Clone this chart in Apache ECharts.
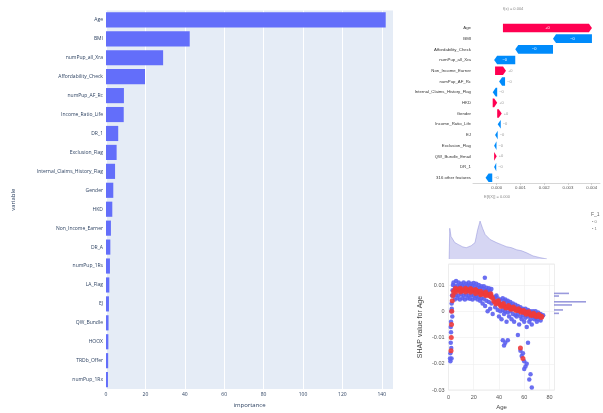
<!DOCTYPE html>
<html><head><meta charset="utf-8">
<script src="https://cdn.jsdelivr.net/npm/echarts/dist/echarts.min.js"></script>
<style>html,body{margin:0;padding:0;background:#fff}#c{width:603px;height:413px}</style>
</head><body><div id="c"></div>
<script>
// ---- Left: feature importance (plotly-style) ----
const impFeatures = ['Age','BMI','numPup_all_Xra','Affordability_Check','numPup_AF_Rc','Income_Ratio_Life','DR_1','Exclusion_Flag','Internal_Claims_History_Flag','Gender','HKD','Non_Income_Earner','DR_A','numPup_1Rs','LA_Flag','EJ','QW_Bundle','HOOX','TRDb_Offer','numPup_1Rx'];
const impValues = [142, 42.5, 29, 19.8, 9.1, 9.0, 6.2, 5.4, 4.6, 3.7, 3.2, 2.5, 2.2, 2.0, 1.7, 1.5, 1.3, 1.2, 1.1, 1.0];

// ---- Top right: SHAP waterfall ----
const wfLabels = ['Age','BMI','Affordability_Check','numPup_all_Xra','Non_Income_Earner','numPup_AF_Rc','Internal_Claims_History_Flag','HKD','Gender','Income_Ratio_Life','EJ','Exclusion_Flag','QW_Bundle_Email','DR_1','316 other features'];
const wfStart = [0.00026, 0.00401, 0.00237, 0.00078, -0.00007, 0.00035, 0.00002, -0.00017, 0.00002, 0.00017, 0.00004, -0.00001, -0.00011, -0.00002, -0.00019];
const wfEnd   = [0.00401, 0.00237, 0.00078, -0.00011, 0.00039, 0.00010, -0.00017, 0.00002, 0.00021, 0.00004, -0.00007, -0.00011, 0.00000, -0.00011, -0.00047];
const wfText  = ['+0','\u22120','\u22120','\u22120','+0','\u22120','\u22120','+0','+0','\u22120','\u22120','\u22120','+0','\u22120','\u22120'];

// ---- Bottom right: dependence plot (Age vs SHAP value) ----
const depBlue = [
 [1.2,-0.018],[1.5,-0.019],[1.5,-0.016],[1.8,-0.012],[2,-0.008],[2,-0.004],[2.2,0],[2.5,0.003],[2.8,0.006],[3,-0.002],
 [1.8,-0.006],[2.2,-0.014],[2.6,0.001],[3.2,0.008],[3.5,0.01],[2.4,-0.018],
 [4,0.011],[6,0.0115],[8,0.011],[10,0.0105],[12,0.011],[14,0.0105],[16,0.011],[18,0.0105],[20,0.0108],[22,0.0105],[24,0.01],[26,0.0095],[28,0.0095],[30,0.009],[32,0.0088],[34,0.0085],
 [5,0.0095],[7,0.0098],[9,0.0093],[11,0.0097],[13,0.0094],[15,0.0098],[17,0.0095],[19,0.0096],[21,0.0093],[23,0.009],[25,0.0088],[27,0.0085],[29,0.008],[31,0.0078],[33,0.0075],
 [4,0.006],[6,0.0062],[8,0.006],[10,0.0065],[12,0.006],[14,0.0063],[16,0.006],[18,0.0062],[20,0.006],[22,0.0058],[24,0.0055],[26,0.005],[28,0.0048],[30,0.004],[32,0.0035],[34,0.003],
 [5,0.0045],[7,0.005],[9,0.0045],[11,0.005],[13,0.0045],[15,0.005],[17,0.0048],[19,0.0045],[21,0.005],[23,0.0045],[25,0.004],[27,0.003],[29,0.002],[31,0.0],[33,0.001],[35,-0.001],
 [36,0.005],[38,0.006],[40,0.004],[42,0.003],[44,0.004],[46,0.0035],[48,0.003],[50,0.002],[52,0.001],[54,0.0005],[56,0.001],[58,0.0],[60,-0.0005],[62,0.0],[64,-0.001],[66,-0.0005],[68,-0.001],[70,-0.002],[72,-0.001],[74,-0.002],
 [37,0.0055],[39,0.005],[41,0.0045],[43,0.005],[45,0.0045],[47,0.004],[49,0.0035],[51,0.003],[53,0.0025],[55,0.002],[57,0.0015],[59,0.001],[61,0.001],[63,0.0005],[65,0.0],[67,0.0],[69,0.0],[71,-0.0005],[73,-0.001],[75,-0.0015],
 [37,0.0015],[39,0.0005],[41,0.0],[43,0.0005],[45,0.0],[47,-0.0005],[49,0.0],[51,-0.001],[53,-0.0015],[55,-0.001],[57,-0.002],[59,-0.0015],[61,-0.0025],[63,-0.002],[65,-0.003],[67,-0.002],[69,-0.0025],[71,-0.003],[73,-0.0035],
 [40,-0.002],[42,-0.003],[44,-0.001],[46,-0.004],[48,-0.002],[50,-0.003],[52,-0.004],[54,-0.002],[56,-0.005],[58,-0.003],[60,-0.004],[62,-0.006],[64,-0.004],[66,-0.005],[68,-0.003],[70,-0.004],
 [43,-0.011],[45,-0.012],[47,-0.011],[44,-0.013],[55,-0.009],[57,-0.015],[58,-0.017],[59,-0.016],[60,-0.019],[61,-0.021],[60,-0.022],[62,-0.02],[63,-0.012],[64,-0.026],[65,-0.024],[66,-0.029],[28.8,0.0128]
];
const depRed = [
 [2,-0.015],[2.2,-0.01],[2.4,-0.005],[2.6,0],[3,0.004],[3.5,0.006],[4,0.0075],[5,0.008],[6,0.0082],[7,0.008],[8,0.0085],[9,0.008],[10,0.0082],[11,0.0078],[12,0.008],[13,0.0082],[14,0.008],[15,0.0083],[16,0.0078],[17,0.008],[18,0.0082],[19,0.0077],[20,0.008],[21,0.0075],[22,0.0078],[23,0.0073],[24,0.0075],[25,0.007],[26,0.0068],[27,0.007],[28,0.0065],[29,0.0068],[30,0.0062],[31,0.0065],[32,0.006],[33,0.0062],[34,0.0058],[35,0.005],
 [5.5,0.0088],[9.5,0.0088],[13.5,0.0088],[17.5,0.0087],[21.5,0.0083],[25.5,0.0076],[29.5,0.0073],[33.5,0.0067],[5.5,0.0072],[9.5,0.0073],[13.5,0.0073],[17.5,0.0072],[21.5,0.0068],[25.5,0.0063],[29.5,0.006],[33.5,0.0055],
 [36,0.0038],[37,0.0035],[38,0.0032],[39,0.0035],[40,0.003],[41,0.0025],[42,0.0022],[43,0.0025],[44,0.002],[45,0.0018],[46,0.0015],[47,0.0018],[48,0.0012],[49,0.0015],[50,0.001],[51,0.0012],[52,0.0008],[53,0.001],[54,0.0005],[55,0.0006],[56,0.0002],[57,0.0004],[58,0],[59,-0.0002],[60,-0.0005],[61,-0.0003],[62,-0.0008],[63,-0.0005],[64,-0.001],[65,-0.0012],[66,-0.001],[67,-0.0015],[68,-0.0012],[69,-0.0015],[70,-0.0018],[71,-0.0015],[72,-0.002],[73,-0.0018],[74,-0.002],
 [37.5,0.0028],[41.5,0.0018],[45.5,0.0012],[49.5,0.0008],[53.5,0.0003],[57.5,-0.0004],[61.5,-0.0011],[65.5,-0.0016],[69.5,-0.002],[73.5,-0.0024],[39.5,0.004],[43.5,0.003],[47.5,0.0022],[51.5,0.0016],[55.5,0.001],[59.5,0.0003],[63.5,-0.0002],[67.5,-0.0008],[71.5,-0.0012],
 [57,-0.014],[59,-0.018]
];
const histAge   = [0.5, 1, 2, 5, 8, 11, 14, 18, 21, 23, 25, 27, 29, 33, 38, 42, 46, 50, 54, 58, 62, 67, 72, 76, 78];
const histCount = [0, 30, 22, 16, 14, 12, 11, 13, 16, 28, 37, 30, 24, 19, 16, 14, 12, 11, 9, 8, 6, 3, 1.5, 0.5, 0];
const rhVal = [0.0068, 0.0058, 0.0036, 0.0024, 0.0005, -0.0008];
const rhLen = [15, 5, 32, 18, 9, 5];

const chart = echarts.init(document.getElementById('c'), null, {renderer: 'canvas'});
const pf = 'Open Sans, Arial, sans-serif';
const RED = '#ff0051', BLUE = '#008bfb';

const wfData = wfLabels.map((l, i) => [i, wfStart[i], wfEnd[i]]);

chart.setOption({
  backgroundColor: '#fff',
  animation: false,
  grid: [
    {left: 106, top: 10.4, width: 287, height: 383.2, show: true, backgroundColor: '#e5ecf6', borderWidth: 0},
    {left: 473, top: 22.6, width: 127, height: 160.5},
    {left: 448.5, top: 264, width: 106, height: 126, show: true, borderColor: '#ddd', borderWidth: 0.6},
    {left: 448.5, top: 218, width: 106, height: 41},
    {left: 554, top: 264, width: 40, height: 126}
  ],
  xAxis: [
    {gridIndex: 0, type: 'value', min: 0, max: 145.7, interval: 20,
     name: 'importance', nameLocation: 'middle', nameGap: 11, nameTextStyle: {fontSize: 6, color: '#2a3f5f', fontFamily: pf},
     axisLine: {show: false}, axisTick: {show: false},
     axisLabel: {fontSize: 5, color: '#2a3f5f', margin: 3, showMaxLabel: false, fontFamily: pf},
     splitLine: {lineStyle: {color: '#fff', width: 1}}},
    {gridIndex: 1, type: 'value', min: -0.001, max: 0.00435, interval: 0.001,
     axisLine: {show: true, lineStyle: {color: '#bbb', width: 0.6}}, axisTick: {show: true, length: 2, lineStyle: {color: '#bbb', width: 0.6}},
     axisLabel: {fontSize: 4.3, color: '#555', margin: 3, showMinLabel: false, showMaxLabel: false, formatter: v => v.toFixed(3)},
     splitLine: {show: false}},
    {gridIndex: 2, type: 'value', min: 0, max: 84, interval: 20,
     name: 'Age', nameLocation: 'middle', nameGap: 14, nameTextStyle: {fontSize: 6, color: '#444'},
     axisLine: {show: false}, axisTick: {show: false},
     axisLabel: {fontSize: 5.5, color: '#555', margin: 4, showMaxLabel: false},
     splitLine: {lineStyle: {color: '#eee', width: 0.6}}},
    {gridIndex: 3, type: 'value', min: 0, max: 84, show: false},
    {gridIndex: 4, type: 'value', min: 0, max: 40, show: false}
  ],
  yAxis: [
    {gridIndex: 0, type: 'category', inverse: true, data: impFeatures,
     name: 'variable', nameLocation: 'middle', nameGap: 90, nameRotate: 90, nameTextStyle: {fontSize: 6, color: '#2a3f5f', fontFamily: pf},
     axisLine: {show: false}, axisTick: {show: false},
     axisLabel: {fontSize: 5, color: '#2a3f5f', margin: 3, fontFamily: pf}},
    {gridIndex: 1, type: 'category', inverse: true, data: wfLabels,
     axisLine: {show: false}, axisTick: {show: false},
     axisLabel: {fontSize: 4.3, color: '#333', margin: 2}},
    {gridIndex: 2, type: 'value', min: -0.03, max: 0.018, interval: 0.01,
     name: 'SHAP value for Age', nameLocation: 'middle', nameGap: 25, nameRotate: 90, nameTextStyle: {fontSize: 7, color: '#444'},
     axisLine: {show: false}, axisTick: {show: false},
     axisLabel: {fontSize: 5.5, color: '#555', margin: 4, showMaxLabel: false, formatter: v => String(+v.toFixed(2))},
     splitLine: {lineStyle: {color: '#eee', width: 0.6}}},
    {gridIndex: 3, type: 'value', min: 0, max: 40, show: false},
    {gridIndex: 4, type: 'value', min: -0.03, max: 0.018, show: false}
  ],
  series: [
    {type: 'bar', xAxisIndex: 0, yAxisIndex: 0, data: impValues, barCategoryGap: '20%',
     itemStyle: {color: '#636efa'}},
    {type: 'custom', xAxisIndex: 1, yAxisIndex: 1, data: wfData, encode: {x: [1, 2], y: 0},
     renderItem: function (params, api) {
       const row = api.value(0), s = api.value(1), e = api.value(2);
       const p0 = api.coord([s, row]), p1 = api.coord([e, row]);
       const h = api.size([0, 1])[1] * 0.8;
       const y = p0[1];
       const dir = e >= s ? 1 : -1;
       const color = dir > 0 ? RED : BLUE;
       const len = Math.abs(p1[0] - p0[0]);
       const tip = Math.min(3, len);
       const x0 = p0[0], x1 = p1[0];
       const pts = [[x0, y - h / 2], [x1 - dir * tip, y - h / 2], [x1, y], [x1 - dir * tip, y + h / 2], [x0, y + h / 2]];
       const children = [{type: 'polygon', shape: {points: pts}, style: {fill: color}}];
       const t = wfText[row];
       if (len > 15) {
         children.push({type: 'text', style: {text: t, x: (x0 + x1) / 2, y: y, fill: '#fff', fontSize: 4, align: 'center', verticalAlign: 'middle'}});
       } else {
         children.push({type: 'text', style: {text: t, x: Math.max(x0, x1) + 2, y: y, fill: '#999', fontSize: 4, align: 'left', verticalAlign: 'middle'}});
       }
       return {type: 'group', children: children};
     }},
    {type: 'scatter', xAxisIndex: 2, yAxisIndex: 2, data: depBlue, symbolSize: 4.5,
     itemStyle: {color: '#5b5ff0', opacity: 0.9}},
    {type: 'scatter', xAxisIndex: 2, yAxisIndex: 2, data: depRed, symbolSize: 5,
     itemStyle: {color: '#ee3b3b', opacity: 0.9}},
    {type: 'line', xAxisIndex: 3, yAxisIndex: 3, data: histAge.map((a, i) => [a, histCount[i]]),
     symbol: 'none', lineStyle: {color: 'rgba(120,120,210,0.8)', width: 0.5},
     areaStyle: {color: 'rgba(140,140,220,0.5)'}},
    {type: 'custom', xAxisIndex: 4, yAxisIndex: 4, data: rhVal.map((v, i) => [rhLen[i], v]),
     renderItem: function (params, api) {
       const p0 = api.coord([0, api.value(1)]), p1 = api.coord([api.value(0), api.value(1)]);
       return {type: 'rect', shape: {x: p0[0], y: p0[1] - 0.8, width: p1[0] - p0[0], height: 1.6},
               style: {fill: 'rgba(120,120,210,0.75)'}};
     }}
  ],
  graphic: [
    {type: 'text', left: 503, top: 7, style: {text: 'f(x) = 0.004', fontSize: 4, fill: '#888'}},
    {type: 'text', left: 484, top: 195, style: {text: 'E[f(X)] = 0.000', fontSize: 4, fill: '#888'}},
    {type: 'text', left: 591, top: 212, style: {text: 'F_1', fontSize: 5, fill: '#666'}},
    {type: 'text', left: 592, top: 220, style: {text: '\u2022 0', fontSize: 4, fill: '#777'}},
    {type: 'text', left: 592, top: 227, style: {text: '\u2022 1', fontSize: 4, fill: '#777'}}
  ]
});
</script></body></html>
